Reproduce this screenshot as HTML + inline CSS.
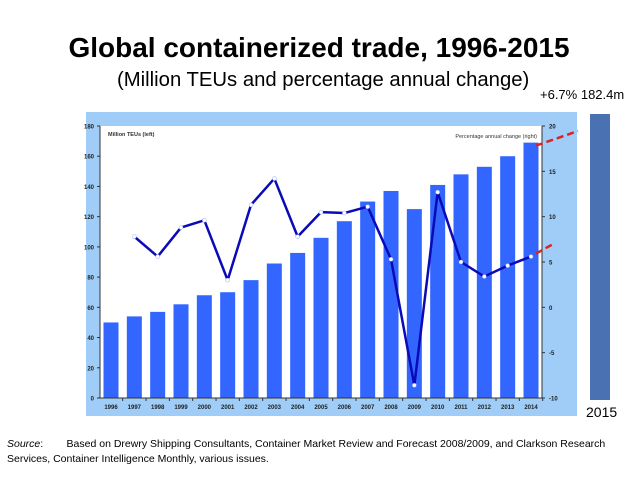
<!DOCTYPE html>
<html><head><meta charset="utf-8"><style>
body{margin:0;width:638px;height:479px;background:#fff;font-family:"Liberation Sans",sans-serif;position:relative;overflow:hidden}
.t{position:absolute;white-space:nowrap}
</style></head><body>
<div class="t" style="left:0;width:638px;text-align:center;top:32px;font-size:28px;font-weight:bold">Global containerized trade, 1996-2015</div>
<div class="t" style="left:117px;top:69px;font-size:20.3px">(Million TEUs and percentage annual change)</div>
<div class="t" style="left:540px;top:87px;font-size:13px">+6.7% 182.4m</div>
<svg width="638" height="479" style="position:absolute;left:0;top:0" id="chart">
<rect x="86" y="112" width="491" height="304" fill="#9fcdf7"/>
<rect x="100" y="126" width="442" height="272" fill="#fff"/>
<rect x="590" y="114" width="20" height="286" fill="#4a72b2"/>
<g id="g"></g>
</svg>
<div class="t" style="left:586px;top:404px;font-size:14px">2015</div>
<div class="t" style="left:7px;top:437px;font-size:10.5px;line-height:15px"><i>Source</i>:&nbsp;&nbsp;&nbsp;&nbsp;&nbsp;&nbsp;&nbsp;&nbsp;Based on Drewry Shipping Consultants, Container Market Review and Forecast 2008/2009, and Clarkson Research<br>Services, Container Intelligence Monthly, various issues.</div>
<script>
const years=["1996","1997","1998","1999","2000","2001","2002","2003","2004","2005","2006","2007","2008","2009","2010","2011","2012","2013","2014"];
const teus=[50,54,57,62,68,70,78,89,96,106,117,130,137,125,141,148,153,160,169];
const pct=[null,7.8,5.6,8.8,9.6,3.0,11.3,14.2,7.8,10.5,10.4,11.1,5.3,-8.6,12.7,5.0,3.4,4.6,5.6];
const leftTicks=[0,20,40,60,80,100,120,140,160,180];
const rightTicks=[-10,-5,0,5,10,15,20];
const X0=100,X1=542,YT=126,YB=398;
const x=i=>111+i*(531-111)/18;
const yl=v=>YB-(v/180)*(YB-YT);
const yr=v=>YB-((v+10)/30)*(YB-YT);
const g=document.getElementById('g');const NS="http://www.w3.org/2000/svg";
function mk(t,a,txt){const e=document.createElementNS(NS,t);for(const k in a)e.setAttribute(k,a[k]);if(txt!=null)e.textContent=txt;g.appendChild(e);return e;}
teus.forEach((v,i)=>{const r=mk('rect',{x:x(i)-7.5,y:yl(v),width:15,height:YB-yl(v),fill:'#3366ff'});

});
let a=mk('line',{x1:X0,y1:YT,x2:X0,y2:YB,stroke:'#333','stroke-width':1});


a=mk('line',{x1:X1,y1:YT,x2:X1,y2:YB,stroke:'#333','stroke-width':1});


a=mk('line',{x1:X0,y1:YB,x2:X1,y2:YB,stroke:'#333','stroke-width':1});


leftTicks.forEach(v=>{mk('line',{x1:X0-3,x2:X0,y1:yl(v),y2:yl(v),stroke:'#333'});
const t=mk('text',{x:X0-6,y:yl(v)+2.5,'font-size':6,'font-weight':'bold','text-anchor':'end',fill:'#222'},v);

});
rightTicks.forEach(v=>{mk('line',{x1:X1,x2:X1+3,y1:yr(v),y2:yr(v),stroke:'#333'});
const t=mk('text',{x:X1+7,y:yr(v)+2.5,'font-size':6,'font-weight':'bold',fill:'#222'},v);

});
years.forEach((y,i)=>{const t=mk('text',{x:x(i),y:YB+11,'font-size':6,'font-weight':'bold','text-anchor':'middle',fill:'#222'},y);


mk('line',{x1:x(i)+11.7,x2:x(i)+11.7,y1:YB,y2:YB+3,stroke:'#333'});});
let t=mk('text',{x:108,y:136,'font-size':5.5,'font-weight':'bold',fill:'#333'},'Million TEUs (left)');


t=mk('text',{x:537,y:138,'font-size':5.5,'text-anchor':'end',fill:'#333'},'Percentage annual change (right)');


let d='';pct.forEach((v,i)=>{if(v!=null)d+=(d?'L':'M')+x(i)+' '+yr(v);});
const p=mk('path',{d:d,fill:'none',stroke:'#0a0ab8','stroke-width':2.5,'stroke-linejoin':'round'});


pct.forEach((v,i)=>{if(v==null)return;const c=mk('circle',{cx:x(i),cy:yr(v),r:2,fill:'#fff',stroke:'#99aaff','stroke-width':0.5});

});
const li=18;
let r=mk('line',{x1:x(li)+5,y1:yl(teus[li])+3,x2:578,y2:131,stroke:'#dd2222','stroke-width':2.5,'stroke-dasharray':'7 4'});


r=mk('line',{x1:x(li)+5,y1:yr(pct[li])-3,x2:555,y2:243,stroke:'#dd2222','stroke-width':2.5,'stroke-dasharray':'7 4'});


</script>
</body></html>
